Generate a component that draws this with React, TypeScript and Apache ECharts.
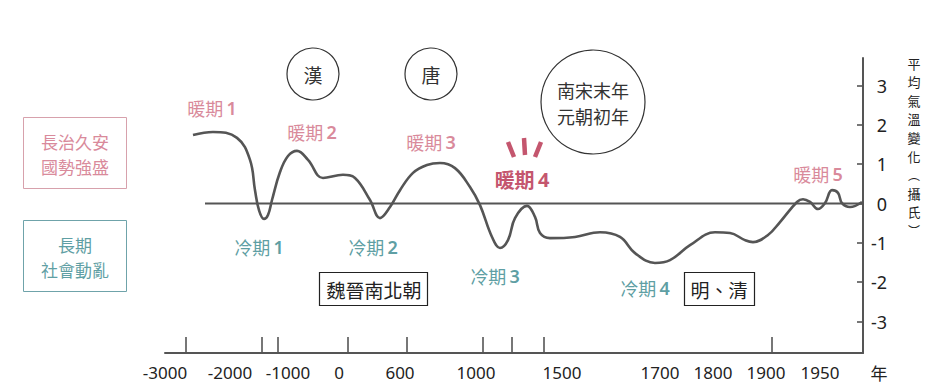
import React, { useEffect, useRef } from "react";
import * as echarts from "echarts";

// x positions are in "chart position units" along the (non-linear) time axis
const xTickLabels = ["-3000", "-2000", "-1000", "0", "600", "1000", "1500", "1700", "1800", "1900", "1950"];
const xLabelPos = [0, 65, 123, 174, 235, 311, 397, 495, 548, 601, 655];
const xTickPos = [21, 97, 113, 183, 242, 318, 347, 379, 607];
const yTicks = [-3, -2, -1, 0, 1, 2, 3];

// temperature curve (position, °C change)
const curveX = [28, 48, 72, 85, 90, 94, 99, 103, 107, 115, 123, 132, 143, 158, 178, 190, 205, 215, 225, 235, 248, 262, 275, 290, 305, 315, 327, 335, 343, 350, 362, 370, 375, 385, 410, 435, 455, 470, 490, 505, 525, 550, 565, 580, 588, 603, 615, 632, 638, 645, 653, 660, 667, 673, 677, 685, 697];
const curveT = [1.74, 1.82, 1.67, 1.11, 0.34, -0.17, -0.39, -0.29, 0.09, 0.8, 1.21, 1.34, 1.11, 0.65, 0.73, 0.65, 0.09, -0.37, -0.09, 0.34, 0.78, 0.98, 1.03, 0.9, 0.42, -0.04, -0.85, -1.13, -0.93, -0.37, -0.06, -0.34, -0.75, -0.88, -0.85, -0.73, -0.85, -1.26, -1.51, -1.44, -1.06, -0.73, -0.75, -0.93, -0.98, -0.8, -0.47, 0.04, 0.11, 0.04, -0.14, 0.01, 0.34, 0.27, 0.01, -0.09, 0.04];
const zeroLineFrom = 40;

const warmNames = ["暖期 1", "暖期 2", "暖期 3", "暖期 4", "暖期 5"];
const coldNames = ["冷期 1", "冷期 2", "冷期 3", "冷期 4"];
const dynasties = ["漢", "唐"];
const songYuan = ["南宋末年", "元朝初年"];
const goodBox = ["長治久安", "國勢強盛"];
const badBox = ["長期", "社會動亂"];
const eraBoxes = ["魏晉南北朝", "明、清"];
const yName = "平均氣溫變化︵攝氏︶";
const xUnit = "年";

const CJK = '"Noto Sans CJK TC", "Noto Sans CJK SC", sans-serif';
const LAT = '"Noto Sans", "Open Sans", sans-serif';
const pink = "#d98a9b";
const pinkBorder = "#d7a1ac";
const teal = "#5f9fa4";
const tealBorder = "#6fa3aa";
const red = "#c4566e";
const ink = "#333";
const curveColor = "#555";

function periodLabel(name: string, x: number, y: number, color: string, size: number, bold = false) {
  const [word, num] = name.split(" ");
  return {
    type: "text",
    x,
    y,
    z: 10,
    style: {
      text: `{c|${word}} {d|${num}}`,
      align: "center",
      verticalAlign: "middle",
      textAlign: "center",
      textVerticalAlign: "middle",
      rich: {
        c: { fontSize: size, fontFamily: CJK, fill: color, fontWeight: bold ? "bold" : "normal" },
        d: { fontSize: size, fontFamily: LAT, fill: color, fontWeight: bold ? "bold" : 600 },
      },
    },
  };
}

function plainText(text: string, x: number, y: number, color: string, size: number) {
  return {
    type: "text",
    x,
    y,
    z: 10,
    style: {
      text,
      fill: color,
      fontSize: size,
      fontFamily: CJK,
      align: "center",
      verticalAlign: "middle",
      textAlign: "center",
      textVerticalAlign: "middle",
    },
  };
}

function lines(texts: string[], x: number, yFirst: number, step: number, color: string, size: number) {
  return texts.map((t, i) => plainText(t, x, yFirst + i * step, color, size));
}

export default function App() {
  const ref = useRef<HTMLDivElement>(null);
  useEffect(() => {
    if (!ref.current) return;
    const chart = echarts.init(ref.current, null, { renderer: "svg" });
    const yNameChars = yName
      .split("")
      .map((ch, i) => plainText(ch, 914, 63 + i * 18.6, "#222", ch === "︵" || ch === "︶" ? 12 : 13));
    const graphic: any[] = [
      // circles
      { type: "circle", shape: { cx: 313, cy: 74, r: 26 }, style: { fill: "none", stroke: ink, lineWidth: 1.2 } },
      { type: "circle", shape: { cx: 431, cy: 74, r: 26 }, style: { fill: "none", stroke: ink, lineWidth: 1.2 } },
      { type: "circle", shape: { cx: 593, cy: 102, r: 52 }, style: { fill: "none", stroke: ink, lineWidth: 1.2 } },
      plainText(dynasties[0], 313, 74, ink, 19),
      plainText(dynasties[1], 431, 74, ink, 19),
      ...lines(songYuan, 593, 90, 26, ink, 18),
      // side boxes
      { type: "rect", shape: { x: 23.5, y: 117.5, width: 103, height: 71 }, style: { fill: "none", stroke: pinkBorder, lineWidth: 1 } },
      ...lines(goodBox, 75, 141, 25, pink, 17),
      { type: "rect", shape: { x: 23.5, y: 220.5, width: 103, height: 71 }, style: { fill: "none", stroke: tealBorder, lineWidth: 1 } },
      ...lines(badBox, 75, 244, 25, teal, 17),
      // era boxes
      { type: "rect", shape: { x: 319.5, y: 272.5, width: 108, height: 33 }, style: { fill: "#fff", stroke: "#222", lineWidth: 1.2 } },
      plainText(eraBoxes[0], 374, 289, "#222", 19),
      { type: "rect", shape: { x: 684.5, y: 272.5, width: 70, height: 33 }, style: { fill: "#fff", stroke: "#222", lineWidth: 1.2 } },
      plainText(eraBoxes[1], 719, 289, "#222", 19),
      // period labels
      periodLabel(warmNames[0], 212, 108, pink, 18),
      periodLabel(warmNames[1], 312, 132, pink, 18),
      periodLabel(warmNames[2], 431, 142, pink, 18),
      periodLabel(warmNames[3], 522, 179, red, 20, true),
      periodLabel(warmNames[4], 818, 174, pink, 18),
      periodLabel(coldNames[0], 259, 247, teal, 18),
      periodLabel(coldNames[1], 373, 247, teal, 18),
      periodLabel(coldNames[2], 495, 276, teal, 18),
      periodLabel(coldNames[3], 645, 288, teal, 18),
      // emphasis strokes above 暖期 4
      { type: "line", shape: { x1: 508, y1: 142, x2: 514, y2: 157 }, style: { stroke: red, lineWidth: 4.5 } },
      { type: "line", shape: { x1: 524, y1: 138, x2: 525, y2: 155 }, style: { stroke: red, lineWidth: 4.5 } },
      { type: "line", shape: { x1: 541, y1: 142, x2: 535, y2: 157 }, style: { stroke: red, lineWidth: 4.5 } },
      // axis names
      ...yNameChars,
      plainText(xUnit, 879, 372, "#222", 17),
    ];

    chart.setOption({
      animation: false,
      backgroundColor: "#fff",
      grid: { left: 165, right: 79, top: 58, bottom: 38 },
      xAxis: {
        type: "value",
        min: 0,
        max: 698,
        axisLine: { show: true, onZero: false, lineStyle: { color: curveColor, width: 2 } },
        axisTick: { show: true, inside: true, length: 16, customValues: xTickPos, lineStyle: { color: curveColor, width: 1.6 } },
        axisLabel: {
          customValues: xLabelPos,
          margin: 11,
          color: "#222",
          fontSize: 17,
          fontFamily: LAT,
          formatter: (v: number) => xTickLabels[xLabelPos.indexOf(Math.round(v))] ?? "",
        },
        splitLine: { show: false },
      },
      yAxis: {
        type: "value",
        position: "right",
        min: -3.8,
        max: 3.7,
        axisLine: { show: true, onZero: false, lineStyle: { color: curveColor, width: 2 } },
        axisTick: { show: true, inside: true, length: 6, customValues: yTicks, lineStyle: { color: curveColor, width: 1.6 } },
        axisLabel: {
          customValues: yTicks,
          margin: 24,
          align: "right",
          color: "#222",
          fontSize: 18,
          fontFamily: LAT,
        },
        splitLine: { show: false },
      },
      series: [
        {
          name: "zero",
          type: "line",
          data: [
            [zeroLineFrom, 0],
            [698, 0],
          ],
          symbol: "none",
          lineStyle: { color: curveColor, width: 2 },
          silent: true,
        },
        {
          name: "temperature",
          type: "line",
          data: curveX.map((x, i) => [x, curveT[i]]),
          smooth: 0.4,
          symbol: "none",
          lineStyle: { color: curveColor, width: 2.6 },
        },
      ],
      graphic,
    });
    return () => chart.dispose();
  }, []);
  return <div ref={ref} style={{ position: "absolute", left: 0, top: 0, width: 942, height: 391 }} />;
}
